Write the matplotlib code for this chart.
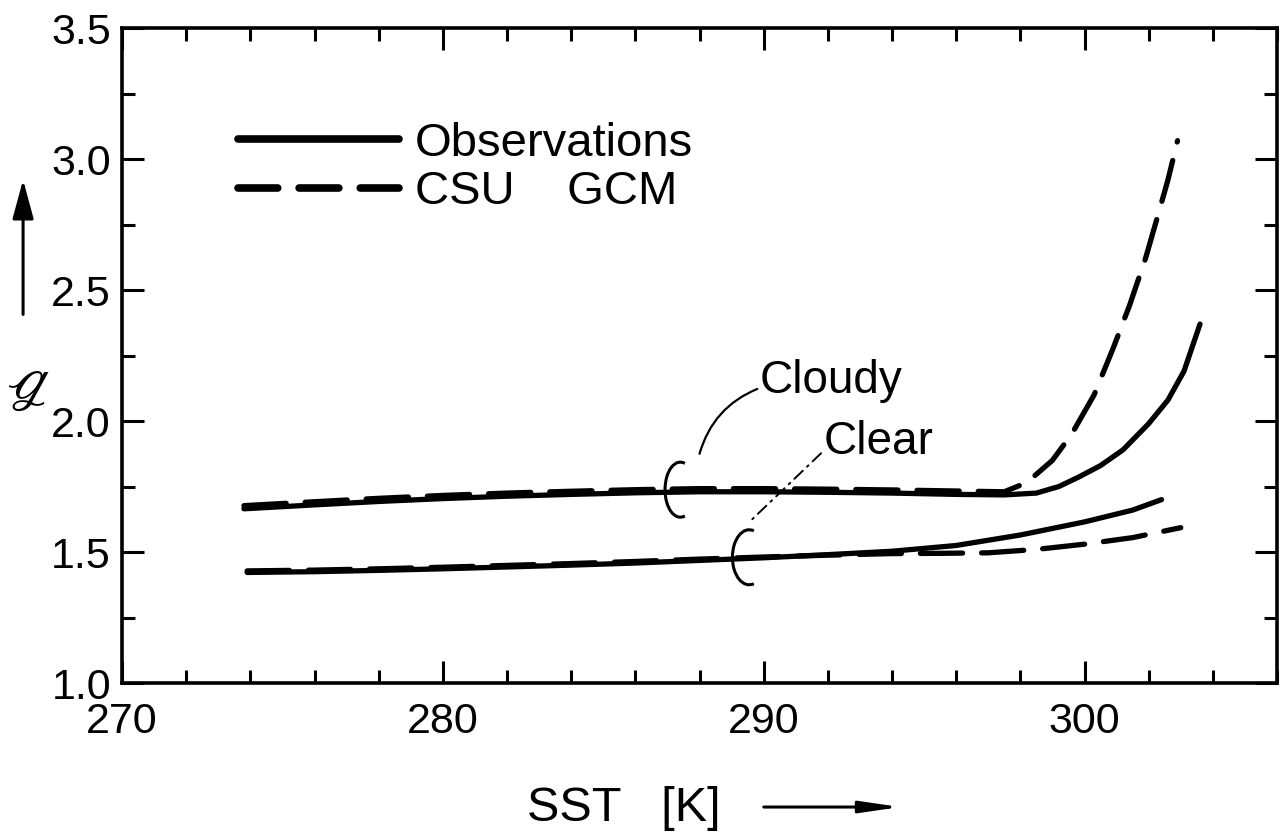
import matplotlib
matplotlib.use("Agg")
import matplotlib.pyplot as plt
from matplotlib.patches import Arc, FancyArrowPatch
from matplotlib.ticker import MultipleLocator

# greenhouse parameter vs SST, cloudy and clear skies
sst_obs_cloudy = [273.8, 276, 278, 280, 282, 284, 286, 288, 290, 292, 294, 296, 297.5,
                  298.5, 299.2, 299.8, 300.5, 301.2, 302.0, 302.6, 303.1, 303.6]
g_obs_cloudy = [1.665, 1.68, 1.693, 1.704, 1.713, 1.72, 1.726, 1.73, 1.73, 1.728, 1.725,
                1.72, 1.718, 1.725, 1.75, 1.785, 1.83, 1.89, 1.99, 2.08, 2.19, 2.37]

sst_gcm_cloudy = [273.8, 276, 278, 280, 282, 284, 286, 288, 290, 292, 294, 296, 297.5,
                  298.2, 299.0, 299.6, 300.3, 300.9, 301.4, 301.9, 302.3, 302.6, 302.9]
g_gcm_cloudy = [1.677, 1.692, 1.705, 1.716, 1.725, 1.732, 1.738, 1.742, 1.742, 1.74, 1.737,
                1.733, 1.73, 1.765, 1.85, 1.95, 2.10, 2.28, 2.44, 2.62, 2.79, 2.92, 3.07]

sst_obs_clear = [273.9, 276, 278, 280, 282, 284, 286, 288, 290, 292, 294, 296, 298,
                 300, 301.5, 302.4]
g_obs_clear = [1.422, 1.425, 1.43, 1.436, 1.443, 1.45, 1.458, 1.468, 1.478, 1.49, 1.503,
               1.525, 1.565, 1.615, 1.66, 1.70]

sst_gcm_clear = [273.9, 276, 278, 280, 282, 284, 286, 288, 290, 292, 294, 295.5, 297,
                 298.5, 300, 301.5, 303.0]
g_gcm_clear = [1.428, 1.431, 1.436, 1.442, 1.449, 1.456, 1.464, 1.473, 1.481, 1.488, 1.494,
               1.495, 1.497, 1.51, 1.53, 1.555, 1.593]

series_names = ["Observations", "CSU    GCM"]
sky_names = ["Cloudy", "Clear"]

plt.rcParams['font.family'] = ['Liberation Sans', 'DejaVu Sans']

fig = plt.figure(figsize=(12.82, 8.39), dpi=100)
ax = fig.add_axes([0.0952, 0.1859, 0.9009, 0.7807])

lw = 3.8
dash = (0, (8, 3.6))
ax.plot(sst_gcm_cloudy, g_gcm_cloudy, color='black', lw=lw, linestyle=dash,
        dash_capstyle='round', label=series_names[1])
ax.plot(sst_gcm_clear, g_gcm_clear, color='black', lw=lw, linestyle=dash,
        dash_capstyle='round')
ax.plot(sst_obs_cloudy, g_obs_cloudy, color='black', lw=lw, solid_capstyle='round',
        label=series_names[0])
ax.plot(sst_obs_clear, g_obs_clear, color='black', lw=lw, solid_capstyle='round')

# small open ellipses grouping each pair of curves
for cx, cy, w in [(287.4, 1.738, 0.95), (289.55, 1.48, 1.05)]:
    ax.add_patch(Arc((cx, cy), w, 0.21, theta1=35, theta2=325, lw=2.2, color='black'))

ax.annotate(sky_names[0], xy=(288.0, 1.875), xytext=(294.34, 2.106),
            ha='right', va='baseline', fontsize=33,
            arrowprops=dict(arrowstyle='-', lw=1.6, color='black', shrinkA=0, shrinkB=0,
                            connectionstyle='arc3,rad=0.25', relpos=(0, 0.35)))
ax.annotate(sky_names[1], xy=(289.6, 1.62), xytext=(291.875, 1.875),
            ha='left', va='baseline', fontsize=33,
            arrowprops=dict(arrowstyle='-', lw=1.4, color='black', shrinkA=0, shrinkB=0,
                            linestyle=(0, (6, 3, 1, 3)), relpos=(0, 0.3)))

ax.set_xlim(270, 306)
ax.set_ylim(1.0, 3.5)
ax.xaxis.set_major_locator(MultipleLocator(10))
ax.xaxis.set_minor_locator(MultipleLocator(2))
ax.yaxis.set_major_locator(MultipleLocator(0.5))
ax.yaxis.set_minor_locator(MultipleLocator(0.25))
ax.tick_params(which='both', direction='in', top=True, right=True, width=2.2)
ax.tick_params(which='major', length=16, labelsize=31)
ax.tick_params(which='minor', length=9.4)
ax.tick_params(axis='x', which='major', pad=14)
ax.tick_params(axis='y', which='major', pad=8)
for s in ax.spines.values():
    s.set_linewidth(2.6)

# legend order: observations first
handles, labels = ax.get_legend_handles_labels()
leg = ax.legend(handles[::-1], labels[::-1], loc='upper left', bbox_to_anchor=(0.1004, 0.857),
                frameon=False, fontsize=34, handlelength=3.4, handletextpad=0.35,
                labelspacing=0.1, borderpad=0, borderaxespad=0)
for l in leg.get_lines():
    l.set_linewidth(5.5)
leg.get_lines()[1].set_linestyle((0, (5.2, 2.8)))

# axis labels with direction arrows
fig.text(0.0225, 0.545, 'ℊ', fontsize=44, family=['DejaVu Sans', 'STIXGeneral'],
         ha='center', va='center')
fig.add_artist(FancyArrowPatch(
    (0.018, 0.622), (0.018, 0.789), transform=fig.transFigure,
    arrowstyle='-|>,head_length=2.4,head_width=0.65', mutation_scale=10,
    lw=2.2, color='black'))
fig.text(0.4867, 0.0358, 'SST   [K]', fontsize=35, ha='center', va='center')
fig.add_artist(FancyArrowPatch(
    (0.5936, 0.0381), (0.7044, 0.0381), transform=fig.transFigure,
    arrowstyle='-|>,head_length=2.4,head_width=0.35', mutation_scale=10,
    lw=2.2, color='black'))

fig.savefig('out.png', dpi=100)
